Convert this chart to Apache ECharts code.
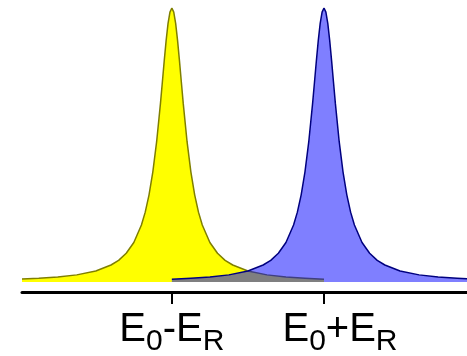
<!DOCTYPE html>
<html>
<head>
<meta charset="utf-8">
<script src="https://cdn.jsdelivr.net/npm/echarts@6/dist/echarts.min.js"></script>
<style>
html,body{margin:0;padding:0;background:#fff;}
#chart{width:467px;height:356px;}
</style>
</head>
<body>
<div id="chart"></div>
<script>
// Tick positions (E0 = 0, ER = 1) and their labels (main part + subscripts)
const tickValues = [-1, 1];
const mainLabels = ['{m|E}{t|0}{m|-E}{t|R}', '{sp| }{m|E}{t|0}{m|+E}{t|R}'];
const subLabels  = ['{h|E}{s|0}{h|-E}{s|R}', '{sp| }{h|E}{s|0}{h|+E}{s|R}'];

// Yellow peak centred at E0-ER
const yellowX = [-2.97,-2.75,-2.5,-2.25,-2.0,-1.8,-1.7,-1.6,-1.5,-1.4,-1.35,-1.3,-1.25,-1.2,-1.15,-1.125,-1.1,-1.075,-1.05,-1.025,-1.0,-0.975,-0.95,-0.925,-0.9,-0.875,-0.85,-0.8,-0.75,-0.7,-0.65,-0.6,-0.5,-0.4,-0.3,-0.2,0.0,0.25,0.5,0.75,1.0];
const yellowY = [0.011,0.014,0.018,0.026,0.040,0.062,0.079,0.105,0.144,0.208,0.255,0.318,0.402,0.512,0.651,0.729,0.808,0.882,0.944,0.985,1.0,0.985,0.944,0.882,0.808,0.729,0.651,0.512,0.402,0.318,0.255,0.208,0.144,0.105,0.079,0.062,0.040,0.026,0.018,0.014,0.010];

// Blue peak centred at E0+ER
const blueX = [-1.0,-0.75,-0.5,-0.25,0.0,0.2,0.3,0.4,0.5,0.6,0.65,0.7,0.75,0.8,0.85,0.875,0.9,0.925,0.95,0.975,1.0,1.025,1.05,1.075,1.1,1.125,1.15,1.2,1.25,1.3,1.35,1.4,1.5,1.6,1.7,1.8,2.0,2.25,2.5,2.75,3.0];
const blueY = [0.010,0.014,0.018,0.026,0.040,0.062,0.079,0.105,0.144,0.208,0.255,0.318,0.402,0.512,0.651,0.729,0.808,0.882,0.944,0.985,1.0,0.985,0.944,0.882,0.808,0.729,0.651,0.512,0.402,0.318,0.255,0.208,0.144,0.105,0.079,0.062,0.040,0.026,0.018,0.014,0.010];

const pairs = (xs, ys) => xs.map((x, i) => [x, ys[i]]);
const FONT = 'Liberation Sans, Arial, Helvetica, sans-serif';
const MAIN = {fontSize: 40, fontFamily: FONT, lineHeight: 40};
const SUB = {fontSize: 30, fontFamily: FONT, lineHeight: 40};
const SPACER = {fontSize: 10, fontFamily: FONT, lineHeight: 40, width: 32, color: 'rgba(0,0,0,0)'};

const chart = echarts.init(document.getElementById('chart'), null, {renderer: 'canvas'});
chart.setOption({
  animation: false,
  backgroundColor: '#ffffff',
  grid: {left: 22, right: 0, top: 8, bottom: 74, containLabel: false, outerBoundsMode: 'none'},
  xAxis: [
    {
      type: 'value', min: -2.97, max: 2.88, position: 'bottom', offset: 10,
      axisLine: {show: true, onZero: false, lineStyle: {color: '#000', width: 3}},
      axisTick: {show: true, length: 12, lineStyle: {color: '#000', width: 2}, customValues: tickValues},
      splitLine: {show: false},
      axisLabel: {
        show: true, customValues: tickValues, margin: 18,
        formatter: function (v) { return mainLabels[tickValues.indexOf(v)]; },
        rich: {
          m: Object.assign({color: '#000'}, MAIN),
          t: Object.assign({color: 'rgba(0,0,0,0)'}, SUB),
          sp: SPACER
        }
      }
    },
    {
      type: 'value', min: -2.97, max: 2.88, position: 'bottom', offset: 10,
      axisLine: {show: false, onZero: false},
      axisTick: {show: false},
      splitLine: {show: false},
      axisLabel: {
        show: true, customValues: tickValues, margin: 30,
        formatter: function (v) { return subLabels[tickValues.indexOf(v)]; },
        rich: {
          h: Object.assign({color: 'rgba(0,0,0,0)'}, MAIN),
          s: Object.assign({color: '#000'}, SUB),
          sp: SPACER
        }
      }
    }
  ],
  yAxis: {type: 'value', min: 0, max: 1, show: false, splitLine: {show: false}},
  series: [
    {
      type: 'line', xAxisIndex: 0,
      data: pairs(yellowX, yellowY),
      showSymbol: false, smooth: false,
      lineStyle: {color: '#7f7f00', width: 1.5},
      areaStyle: {color: '#ffff00', opacity: 1, origin: 'start'},
      z: 2
    },
    {
      type: 'line', xAxisIndex: 0,
      data: pairs(blueX, blueY),
      showSymbol: false, smooth: false,
      lineStyle: {color: '#00007f', width: 1.5},
      areaStyle: {color: 'rgba(0,0,255,0.5)', opacity: 1, origin: 'start'},
      z: 3
    }
  ]
});
</script>
</body>
</html>
